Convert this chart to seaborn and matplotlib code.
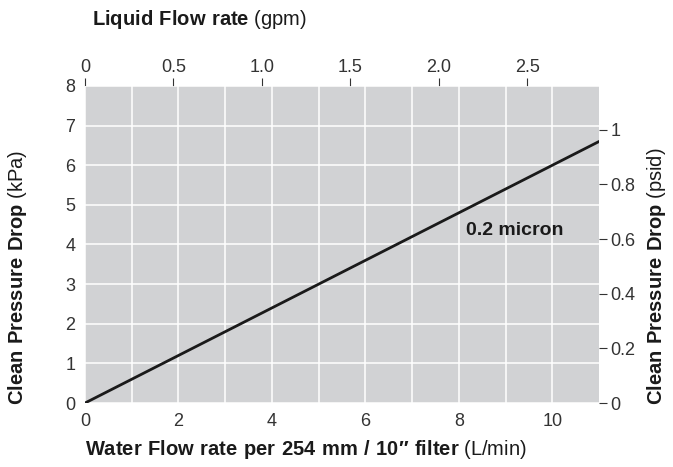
import matplotlib
matplotlib.use("Agg")
import matplotlib.pyplot as plt
import seaborn as sns
import pandas as pd

# datos
flow_lpm = [0, 11]
dp_kpa = [0, 6.6]
series_name = "0.2 micron"

x_ticks = [0, 2, 4, 6, 8, 10]
y_major = [0, 2, 4, 6, 8]
y_minor = [1, 3, 5, 7]
gpm_ticks = [0, 0.5, 1.0, 1.5, 2.0, 2.5]
gpm_labels = ["0", "0.5", "1.0", "1.5", "2.0", "2.5"]
psi_ticks = [0, 0.2, 0.4, 0.6, 0.8, 1.0]
psi_labels = ["0", "0.2", "0.4", "0.6", "0.8", "1"]

sns.set_style("white")
fam = ["Liberation Sans", "DejaVu Sans"]
plt.rcParams["font.family"] = fam
plt.rcParams["mathtext.fontset"] = "custom"
plt.rcParams["mathtext.rm"] = "Liberation Sans"
plt.rcParams["mathtext.bf"] = "Liberation Sans:bold"

txt = "#333333"
bg = "#d1d2d4"

df = pd.DataFrame({"flow": flow_lpm, "dp": dp_kpa})

fig = plt.figure(figsize=(6.73, 4.67), dpi=100)
ax = fig.add_axes([0.1263, 0.137, 0.764, 0.679])
ax.set_facecolor(bg)

sns.lineplot(data=df, x="flow", y="dp", color="#1a1a1a", linewidth=2, ax=ax)

ax.set_xlim(0, 11)
ax.set_ylim(0, 8)

# cuadricula blanca cada 1 unidad
ax.set_xticks(x_ticks)
ax.set_xticks([1, 3, 5, 7, 9], minor=True)
ax.set_yticks(y_major)
ax.set_yticks(y_minor, minor=True)
ax.set_yticklabels([str(v) for v in y_minor], minor=True)
ax.grid(True, which="both", color="white", linewidth=1.1)
ax.set_axisbelow(True)

ax.tick_params(which="major", direction="out", length=6, width=0.8, color=txt,
               labelsize=13, labelcolor=txt, pad=1)
ax.tick_params(axis="x", which="minor", length=0)
ax.tick_params(axis="y", which="minor", length=0, pad=7, labelsize=13, labelcolor=txt)
ax.set_xlabel("")
ax.set_ylabel("")
for s in ax.spines.values():
    s.set_visible(False)

# eje superior gpm
top = ax.secondary_xaxis("top", functions=(lambda x: x / 3.785, lambda g: g * 3.785))
top.set_xticks(gpm_ticks, labels=gpm_labels)
top.tick_params(direction="out", length=6, width=0.8, color=txt, labelsize=13,
                labelcolor=txt, pad=1)
top.spines["top"].set_visible(False)

# eje derecho psid
right = ax.secondary_yaxis("right", functions=(lambda k: k / 6.895, lambda p: p * 6.895))
right.set_yticks(psi_ticks, labels=psi_labels)
right.tick_params(direction="out", length=6, width=0.8, color=txt, labelsize=13,
                  labelcolor=txt, pad=2)
right.spines["right"].set_visible(False)

ax.text(8.15, 4.35, series_name, fontsize=14, fontweight="bold", color="#1a1a1a",
        va="center", ha="left")

# titulos: parte en negrita con mathtext
lab = dict(fontsize=14.5, color="#1a1a1a")
fig.text(92 / 673, 1 - 25 / 467, r"$\mathbf{Liquid\ Flow\ rate}$ (gpm)",
         ha="left", va="baseline", **lab)
fig.text(85 / 673, 1 - 455 / 467,
         "$\\mathbf{Water\\ Flow\\ rate\\ per\\ 254\\ mm\\ /\\ 10\u2033\\ filter}$ (L/min)",
         ha="left", va="baseline", **lab)
fig.text(18 / 673, 1 - 405 / 467, r"$\mathbf{Clean\ Pressure\ Drop}$ (kPa)",
         rotation=90, ha="center", va="bottom", **lab)
fig.text(656 / 673, 1 - 405 / 467, r"$\mathbf{Clean\ Pressure\ Drop}$ (psid)",
         rotation=90, ha="center", va="bottom", **lab)

fig.savefig("out.png", dpi=100)
